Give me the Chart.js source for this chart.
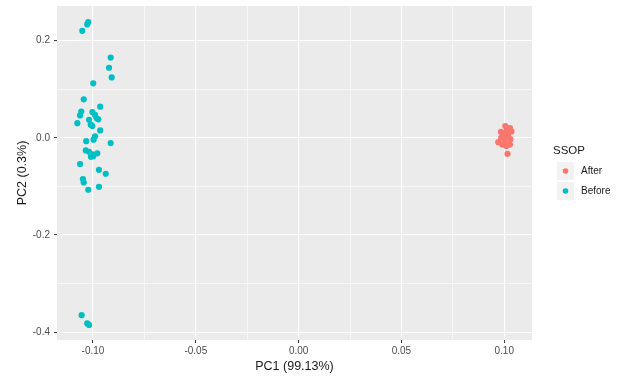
<!DOCTYPE html>
<html>
<head>
<meta charset="utf-8">
<script src="https://cdn.jsdelivr.net/npm/chart.js@4/dist/chart.umd.min.js"></script>
<style>
  html, body { margin: 0; padding: 0; background: #ffffff; }
  #wrap { width: 621px; height: 378px; position: relative; }
</style>
</head>
<body>
<div id="wrap"><canvas id="pca" width="621" height="378"></canvas></div>
<script>
// PCA scores by SSOP group
const groups = ["After", "Before"];
const groupColors = ["#F8766D", "#00BFC4"];

const afterPC1 = [0.1028, 0.0984, 0.1011, 0.0995, 0.1019, 0.0971, 0.1003, 0.1028, 0.1016, 0.0990, 0.1035, 0.1005, 0.0985, 0.1010, 0.1030];
const afterPC2 = [0.020, 0.012, 0.013, 0.003, 0.003, -0.009, -0.007, -0.014, -0.033, -0.014, 0.013, 0.024, 0.000, -0.017, -0.003];

const beforePC1 = [-0.1023, -0.1028, -0.1052, -0.0914, -0.0922, -0.0909, -0.0999, -0.1045, -0.0965, -0.1057,
                   -0.1063, -0.1003, -0.0990, -0.0982, -0.0974, -0.1076, -0.1019, -0.1011, -0.1003, -0.0965,
                   -0.0990, -0.0997, -0.1033, -0.0914, -0.1035, -0.1019, -0.1003, -0.0979, -0.1010, -0.0999,
                   -0.1063, -0.0971, -0.0938, -0.1049, -0.1045, -0.1023, -0.0971, -0.1055, -0.1028, -0.1019];
const beforePC2 = [0.238, 0.233, 0.220, 0.165, 0.144, 0.124, 0.112, 0.079, 0.064, 0.054,
                   0.046, 0.053, 0.047, 0.040, 0.038, 0.030, 0.037, 0.027, 0.024, 0.015,
                   0.003, -0.004, -0.007, -0.011, -0.026, -0.029, -0.034, -0.032, -0.039, -0.038,
                   -0.054, -0.066, -0.074, -0.085, -0.092, -0.107, -0.101, -0.365, -0.382, -0.385];

const xTicks = [-0.1, -0.075, -0.05, -0.025, 0, 0.025, 0.05, 0.075, 0.1];
const yTicks = [-0.4, -0.3, -0.2, -0.1, 0, 0.1, 0.2];
const xMajor = [-0.1, -0.05, 0, 0.05, 0.1];
const yMajor = [-0.4, -0.2, 0, 0.2];

const FONT = "'Liberation Sans', Arial, sans-serif";

function pairs(xs, ys) { return xs.map((x, i) => ({ x: x, y: ys[i] })); }
function isMajor(list, v) { return list.some(m => Math.abs(m - v) < 1e-9); }

const panelBg = {
  id: 'panelBg',
  beforeDraw(chart) {
    const a = chart.chartArea, ctx = chart.ctx;
    ctx.save();
    ctx.fillStyle = '#EBEBEB';
    ctx.fillRect(a.left, a.top, a.right - a.left, a.bottom - a.top);
    ctx.restore();
  }
};

const sideLegend = {
  id: 'sideLegend',
  afterDraw(chart) {
    const ctx = chart.ctx;
    ctx.save();
    ctx.fillStyle = '#1A1A1A';
    ctx.font = '11.5px ' + FONT;
    ctx.textAlign = 'left';
    ctx.textBaseline = 'middle';
    ctx.fillText('SSOP', 553, 151);
    chart.data.datasets.forEach((ds, i) => {
      const cy = 171 + i * 20;
      ctx.fillStyle = '#F2F2F2';
      ctx.fillRect(557, cy - 9, 17, 18);
      ctx.beginPath();
      ctx.arc(565.5, cy, 2.8, 0, Math.PI * 2);
      ctx.fillStyle = ds.backgroundColor;
      ctx.fill();
      ctx.fillStyle = '#1A1A1A';
      ctx.font = '10px ' + FONT;
      ctx.fillText(ds.label, 581, cy + 0.5);
    });
    ctx.restore();
  }
};

new Chart(document.getElementById('pca'), {
  type: 'scatter',
  data: {
    datasets: [
      { label: groups[0], data: pairs(afterPC1, afterPC2), backgroundColor: groupColors[0], borderWidth: 0, pointRadius: 3.1, pointHoverRadius: 3.1 },
      { label: groups[1], data: pairs(beforePC1, beforePC2), backgroundColor: groupColors[1], borderWidth: 0, pointRadius: 3.1, pointHoverRadius: 3.1 }
    ]
  },
  options: {
    responsive: false,
    animation: false,
    events: [],
    layout: { padding: { top: 6, right: 89, bottom: 4, left: 0 } },
    plugins: { legend: { display: false }, tooltip: { enabled: false } },
    scales: {
      x: {
        type: 'linear',
        min: -0.1175, max: 0.1135,
        afterBuildTicks(scale) { scale.ticks = xTicks.map(v => ({ value: v })); },
        afterFit(scale) { scale.height = 34; scale.paddingLeft = 0; scale.paddingRight = 0; },
        border: { display: false },
        grid: {
          color: '#FFFFFF',
          lineWidth: ctx => isMajor(xMajor, ctx.tick.value) ? 1.1 : 0.55,
          drawTicks: true,
          tickLength: 3,
          tickColor: ctx => isMajor(xMajor, ctx.tick.value) ? '#333333' : 'rgba(0,0,0,0)',
          tickWidth: 1
        },
        ticks: {
          autoSkip: false,
          maxRotation: 0,
          padding: 2,
          color: '#4D4D4D',
          font: { family: FONT, size: 10 },
          callback: v => isMajor(xMajor, v) ? v.toFixed(2) : ''
        },
        title: {
          display: true,
          text: 'PC1 (99.13%)',
          color: '#1A1A1A',
          font: { family: FONT, size: 12.5 },
          padding: { top: 0, bottom: 0 }
        }
      },
      y: {
        type: 'linear',
        min: -0.416, max: 0.271,
        afterBuildTicks(scale) { scale.ticks = yTicks.map(v => ({ value: v })); },
        afterFit(scale) { scale.width = 57; scale.paddingTop = 0; scale.paddingBottom = 0; },
        border: { display: false },
        grid: {
          color: '#FFFFFF',
          lineWidth: ctx => isMajor(yMajor, ctx.tick.value) ? 1.1 : 0.55,
          drawTicks: true,
          tickLength: 3,
          tickColor: ctx => isMajor(yMajor, ctx.tick.value) ? '#333333' : 'rgba(0,0,0,0)',
          tickWidth: 1
        },
        ticks: {
          autoSkip: false,
          padding: 4,
          color: '#4D4D4D',
          font: { family: FONT, size: 10 },
          callback: v => isMajor(yMajor, v) ? v.toFixed(1) : ''
        },
        title: {
          display: true,
          text: 'PC2 (0.3%)',
          color: '#1A1A1A',
          font: { family: FONT, size: 12.5 },
          padding: { top: 15, bottom: 0 }
        }
      }
    }
  },
  plugins: [panelBg, sideLegend]
});
</script>
</body>
</html>
